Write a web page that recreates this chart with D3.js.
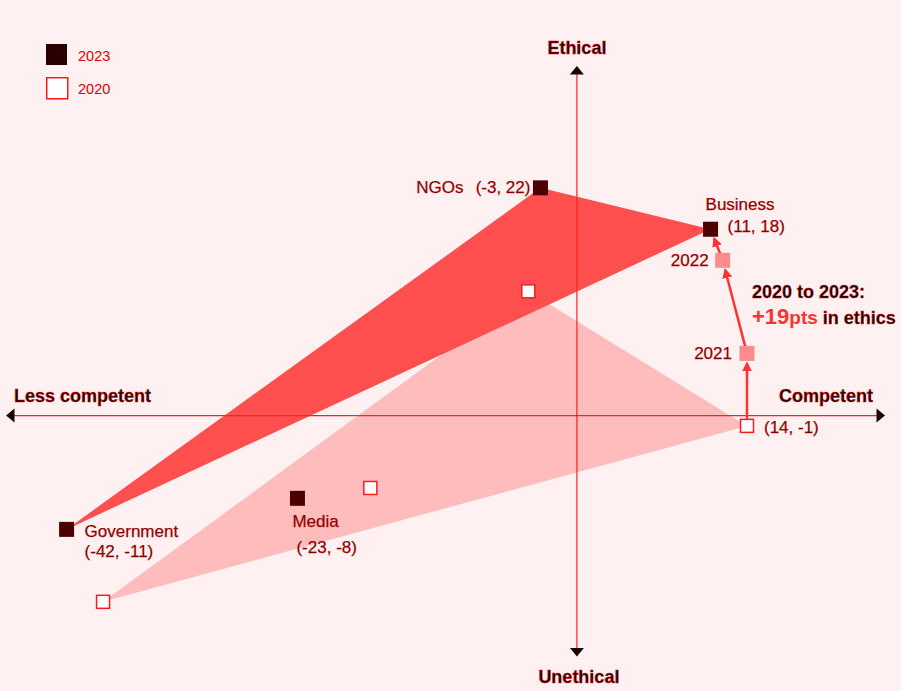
<!DOCTYPE html>
<html>
<head>
<meta charset="utf-8">
<script src="https://cdn.jsdelivr.net/npm/d3@7"></script>
<style>
  html, body { margin: 0; padding: 0; background: #fff1f1; }
  svg { display: block; font-family: "Liberation Sans", Arial, sans-serif; }
</style>
</head>
<body>
<div id="chart"></div>
<script>
// Institutions, competence (x) vs ethics (y) scores
const institutions = ['NGOs', 'Business', 'Government', 'Media'];
const competence2023 = [-3, 11, -42, -23];
const ethics2023 = [22, 18, -11, -8];
const competence2020 = [-4, 14, -39, -17];
const ethics2020 = [12, -1, -18, -7];

// Business path through the years
const businessYears = ['2020', '2021', '2022', '2023'];
const businessCompetence = [14, 14, 12, 11];
const businessEthics = [-1, 6, 15, 18];

const legendYears = ['2023', '2020'];
const axisLabels = ['Ethical', 'Unethical', 'Less competent', 'Competent'];

const W = 901, H = 691;
const C = {
  bg: '#fff1f1',
  axis: '#ff2020',
  dark: '#1a0000',
  label: '#760000',
  poly2023: '#ff4f4f',
  poly2020: '#ffbcbc',
  mark2023: '#4d0000',
  markMid: '#ff8c8c',
  arrow: '#ff3333',
};

const svg = d3.select('#chart').append('svg')
  .attr('width', W)
  .attr('height', H);

svg.append('rect').attr('width', W).attr('height', H).attr('fill', C.bg);

// axis ends sit at the ends of each scale's range
const x = d3.scaleLinear().domain([-46.33, 24.7]).range([14, 877]);
const y = d3.scaleLinear().domain([-22.5, 33]).range([648.4, 74]);

const pts2023 = institutions.map((n, i) => ({ name: n, cx: competence2023[i], cy: ethics2023[i] }));
const pts2020 = institutions.map((n, i) => ({ name: n, cx: competence2020[i], cy: ethics2020[i] }));
const trail = businessYears.map((yr, i) => ({ year: yr, cx: businessCompetence[i], cy: businessEthics[i] }));

// Triangles: NGOs, Business, Government (media left out of the outline)
const outline = d3.line().x(d => x(d.cx)).y(d => y(d.cy)).curve(d3.curveLinearClosed);
svg.append('path')
  .attr('d', outline(pts2020.slice(0, 3)))
  .attr('fill', C.poly2020);
svg.append('path')
  .attr('d', outline(pts2023.slice(0, 3)))
  .attr('fill', C.poly2023);

// Axes
const x0 = x(0), y0 = y(0);
const [xl, xr] = x.range();
const [yb, yt] = y.range();
svg.append('line')
  .attr('x1', xl).attr('x2', xr).attr('y1', y0).attr('y2', y0)
  .attr('stroke', C.axis).attr('stroke-width', 1.2);
svg.append('line')
  .attr('x1', x0).attr('x2', x0).attr('y1', yt).attr('y2', yb)
  .attr('stroke', C.axis).attr('stroke-width', 1.2);

const heads = [
  { px: x0, py: yt, rot: 0 },
  { px: x0, py: yb, rot: 180 },
  { px: xl, py: y0, rot: 270 },
  { px: xr, py: y0, rot: 90 },
];
svg.selectAll('.axis-head').data(heads).join('path')
  .attr('class', 'axis-head')
  .attr('d', 'M0,-8L7,0.5L-7,0.5Z')
  .attr('transform', d => `translate(${d.px},${d.py}) rotate(${d.rot})`)
  .attr('fill', C.dark);

const axisText = [
  { t: axisLabels[0], px: x0, py: 54, anchor: 'middle' },
  { t: axisLabels[1], px: x0 + 2, py: 683, anchor: 'middle' },
  { t: axisLabels[2], px: 14, py: 402, anchor: 'start' },
  { t: axisLabels[3], px: 873, py: 402, anchor: 'end' },
];
svg.selectAll('.axis-label').data(axisText).join('text')
  .attr('class', 'axis-label')
  .attr('x', d => d.px).attr('y', d => d.py)
  .attr('text-anchor', d => d.anchor)
  .attr('font-size', 18).attr('font-weight', 'bold')
  .attr('fill', C.dark).attr('stroke', '#ff0000').attr('stroke-width', 0.4)
  .text(d => d.t);

// Business trajectory arrows
const defs = svg.append('defs');
defs.append('marker')
  .attr('id', 'tip')
  .attr('viewBox', '0 0 10 10')
  .attr('refX', 8).attr('refY', 5)
  .attr('markerWidth', 4).attr('markerHeight', 4)
  .attr('orient', 'auto')
  .append('path').attr('d', 'M0,0L10,5L0,10Z').attr('fill', C.arrow);

const segs = d3.pairs(trail).map(([a, b]) => {
  const ax = x(a.cx), ay = y(a.cy), bx = x(b.cx), by = y(b.cy);
  const len = Math.hypot(bx - ax, by - ay);
  const ux = (bx - ax) / len, uy = (by - ay) / len;
  return { x1: ax + ux * 7, y1: ay + uy * 7, x2: bx - ux * 10, y2: by - uy * 10 };
});
svg.selectAll('.trail').data(segs).join('line')
  .attr('class', 'trail')
  .attr('x1', d => d.x1).attr('y1', d => d.y1)
  .attr('x2', d => d.x2).attr('y2', d => d.y2)
  .attr('stroke', C.arrow).attr('stroke-width', 2.5)
  .attr('marker-end', 'url(#tip)');

// Markers
const sq = 15;
svg.selectAll('.mid').data(trail.slice(1, 3)).join('rect')
  .attr('class', 'mid')
  .attr('x', d => x(d.cx) - sq / 2).attr('y', d => y(d.cy) - sq / 2)
  .attr('width', sq).attr('height', sq)
  .attr('fill', C.markMid);

svg.selectAll('.m2020').data(pts2020).join('rect')
  .attr('class', 'm2020')
  .attr('x', d => x(d.cx) - 6.5).attr('y', d => y(d.cy) - 6.5)
  .attr('width', 13).attr('height', 13)
  .attr('fill', '#fff').attr('stroke', '#ff1a1a').attr('stroke-width', 1.5);

svg.selectAll('.m2023').data(pts2023).join('rect')
  .attr('class', 'm2023')
  .attr('x', d => x(d.cx) - sq / 2).attr('y', d => y(d.cy) - sq / 2)
  .attr('width', sq).attr('height', sq)
  .attr('fill', C.mark2023);

// Point labels
const fmt = (a, b) => `(${a}, ${b})`;
const labels = [
  { t: institutions[0], px: x(competence2023[0]) - 77, py: y(ethics2023[0]) + 5, anchor: 'end' },
  { t: fmt(competence2023[0], ethics2023[0]), px: x(competence2023[0]) - 10, py: y(ethics2023[0]) + 5, anchor: 'end' },
  { t: institutions[1], px: x(competence2023[1]) - 5, py: y(ethics2023[1]) - 19, anchor: 'start' },
  { t: fmt(competence2023[1], ethics2023[1]), px: x(competence2023[1]) + 17, py: y(ethics2023[1]) + 3, anchor: 'start' },
  { t: institutions[2], px: x(competence2023[2]) + 18, py: y(ethics2023[2]) + 8, anchor: 'start' },
  { t: fmt(competence2023[2], ethics2023[2]), px: x(competence2023[2]) + 18, py: y(ethics2023[2]) + 28, anchor: 'start' },
  { t: institutions[3], px: x(competence2023[3]) - 5, py: y(ethics2023[3]) + 29, anchor: 'start' },
  { t: fmt(competence2023[3], ethics2023[3]), px: x(competence2023[3]) - 1, py: y(ethics2023[3]) + 55, anchor: 'start' },
  { t: fmt(competence2020[1], ethics2020[1]), px: x(competence2020[1]) + 17, py: y(ethics2020[1]) + 7, anchor: 'start' },
  { t: businessYears[1], px: x(businessCompetence[1]) - 15, py: y(businessEthics[1]) + 6, anchor: 'end' },
  { t: businessYears[2], px: x(businessCompetence[2]) - 14, py: y(businessEthics[2]) + 6, anchor: 'end' },
];
svg.selectAll('.plabel').data(labels).join('text')
  .attr('class', 'plabel')
  .attr('x', d => d.px).attr('y', d => d.py)
  .attr('text-anchor', d => d.anchor)
  .attr('font-size', 17)
  .attr('fill', C.label).attr('stroke', '#e00000').attr('stroke-width', 0.25)
  .text(d => d.t);

// Annotation
const gain = businessEthics[3] - businessEthics[0];
const note = svg.append('g')
  .attr('font-weight', 'bold')
  .attr('stroke-width', 0.3);
note.append('text')
  .attr('x', 752).attr('y', 298)
  .attr('font-size', 18)
  .attr('fill', C.dark).attr('stroke', '#ff0000')
  .text(`${businessYears[0]} to ${businessYears[3]}:`);
const line2 = note.append('text').attr('x', 752).attr('y', 324);
line2.append('tspan').attr('font-size', 22).attr('fill', C.arrow).text(`+${gain}`);
line2.append('tspan').attr('font-size', 19).attr('fill', C.arrow).text('pts');
line2.append('tspan').attr('font-size', 18).attr('fill', C.dark).attr('stroke', '#ff0000').text(' in ethics');

// Legend
const legend = svg.selectAll('.legend').data(legendYears).join('g')
  .attr('class', 'legend')
  .attr('transform', (d, i) => `translate(46,${44 + i * 33})`);
legend.append('rect')
  .attr('width', 21).attr('height', 21)
  .attr('x', (d, i) => i ? 0.75 : 0).attr('y', (d, i) => i ? 0.75 : 0)
  .attr('fill', (d, i) => i ? '#fff' : '#2b0000')
  .attr('stroke', (d, i) => i ? '#ff1a1a' : 'none')
  .attr('stroke-width', 1.5);
legend.append('text')
  .attr('x', 32).attr('y', 17)
  .attr('font-size', 14.5)
  .attr('fill', '#e00000')
  .text(d => d);
</script>
</body>
</html>
